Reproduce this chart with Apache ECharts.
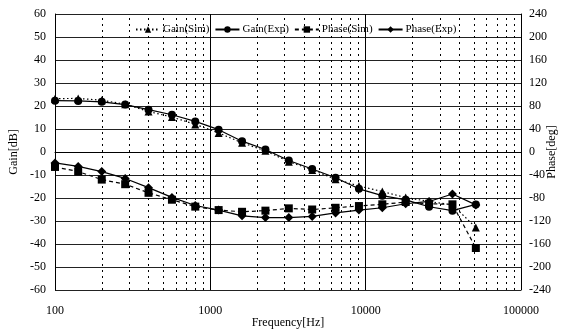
<!DOCTYPE html>
<html>
<head>
<meta charset="utf-8">
<script src="https://cdn.jsdelivr.net/npm/echarts@6/dist/echarts.min.js"></script>
<style>
  html, body { margin: 0; padding: 0; background: #fff; }
  #chart { width: 564px; height: 330px; }
</style>
</head>
<body>
<div id="chart"></div>
<script>
// frequencies in Hz (steps of sqrt(2))
const freqs = [100, 141, 200, 283, 400, 566, 800, 1131, 1600, 2263, 3200, 4525, 6400, 9051, 12800, 18102, 25600, 36204, 51200]

// gain in dB
const gainSim = [23.2, 23.3, 22.5, 20.8, 17.6, 15.2, 12.0, 8.3, 4.0, 0.5, -4.2, -7.8, -11.8, -14.8, -17.2, -19.8, -21.5, -23.0, -32.8]
const gainExp = [22.3, 22.2, 21.8, 20.6, 18.4, 16.2, 13.3, 9.7, 4.7, 1.1, -3.7, -7.4, -11.2, -16.0, -19.0, -20.8, -23.8, -25.5, -22.8]

// phase in degrees
const phaseSim = [-26, -34, -48, -56, -71, -83, -95, -101, -104, -102, -98, -100, -97, -94, -91, -87, -90, -91, -167]
const phaseExp = [-19, -25, -34, -46, -62, -79, -93, -101, -111, -114, -114, -112, -106, -101, -97, -90, -86, -73, -92]

// dashed minor grid lines between decades
const minorFreqs = [200, 300, 400, 500, 600, 700, 800, 900,
  2000, 3000, 4000, 5000, 6000, 7000, 8000, 9000,
  20000, 30000, 40000, 50000, 60000, 70000, 80000, 90000]

const font = 'Liberation Serif'

function pairs (ys) {
  return freqs.map((f, i) => [f, ys[i]])
}

const chart = echarts.init(document.getElementById('chart'))

chart.setOption({
  animation: false,
  textStyle: { fontFamily: font, color: '#000' },
  grid: { left: 55, right: 43, top: 14, bottom: 40, outerBoundsMode: 'none', containLabel: false },
  legend: {
    top: 19,
    left: 130,
    itemWidth: 24,
    itemHeight: 8,
    itemGap: 5,
    textStyle: { fontFamily: font, fontSize: 11, color: '#000', padding: [0, 0, 0, -2] },
    data: ['Gain(Sim)', 'Gain(Exp)', 'Phase(Sim)', 'Phase(Exp)']
  },
  xAxis: {
    type: 'log',
    logBase: 10,
    min: 100,
    max: 100000,
    name: 'Frequency[Hz]',
    nameLocation: 'middle',
    nameGap: 27,
    nameMoveOverlap: false,
    nameTextStyle: { fontFamily: font, fontSize: 12, color: '#000' },
    axisLine: { lineStyle: { color: '#000' } },
    axisTick: { show: false },
    axisLabel: { fontFamily: font, fontSize: 12, color: '#000', margin: 15, formatter: v => String(Math.round(v)) },
    splitLine: { show: true, lineStyle: { color: '#000', width: 1 } }
  },
  yAxis: [
    {
      type: 'value',
      min: -60,
      max: 60,
      interval: 10,
      name: 'Gain[dB]',
      nameLocation: 'middle',
      nameGap: 35,
      nameMoveOverlap: false,
      nameTextStyle: { fontFamily: font, fontSize: 12, color: '#000' },
      axisLine: { show: true, lineStyle: { color: '#000' } },
      axisTick: { show: false },
      axisLabel: { fontFamily: font, fontSize: 12, color: '#000', margin: 9 },
      splitLine: { show: true, lineStyle: { color: '#222', width: 1 } }
    },
    {
      type: 'value',
      min: -240,
      max: 240,
      interval: 40,
      name: 'Phase[deg]',
      nameLocation: 'middle',
      nameRotate: 90,
      nameGap: 25,
      nameMoveOverlap: false,
      nameTextStyle: { fontFamily: font, fontSize: 12, color: '#000' },
      axisLine: { show: true, lineStyle: { color: '#000' } },
      axisTick: { show: false },
      axisLabel: { fontFamily: font, fontSize: 12, color: '#000', margin: 8 },
      splitLine: { show: false }
    }
  ],
  series: [
    {
      name: 'Gain(Sim)',
      type: 'line',
      yAxisIndex: 0,
      data: pairs(gainSim),
      symbol: 'triangle',
      symbolSize: 8,
      itemStyle: { color: '#000' },
      lineStyle: { color: '#000', width: 1.2, type: [1.5, 2.5] },
      markLine: {
        silent: true,
        symbol: 'none',
        label: { show: false },
        lineStyle: { color: '#000', width: 1, type: [2, 4] },
        data: minorFreqs.map(f => ({ xAxis: f }))
      }
    },
    {
      name: 'Gain(Exp)',
      type: 'line',
      yAxisIndex: 0,
      data: pairs(gainExp),
      symbol: 'circle',
      symbolSize: 8,
      itemStyle: { color: '#000' },
      lineStyle: { color: '#000', width: 1.2 }
    },
    {
      name: 'Phase(Sim)',
      type: 'line',
      yAxisIndex: 1,
      data: pairs(phaseSim),
      symbol: 'rect',
      symbolSize: 8,
      itemStyle: { color: '#000' },
      lineStyle: { color: '#000', width: 1.2, type: [4, 3] }
    },
    {
      name: 'Phase(Exp)',
      type: 'line',
      yAxisIndex: 1,
      data: pairs(phaseExp),
      symbol: 'diamond',
      symbolSize: 9,
      itemStyle: { color: '#000' },
      lineStyle: { color: '#000', width: 1.2 }
    }
  ]
})
</script>
</body>
</html>
